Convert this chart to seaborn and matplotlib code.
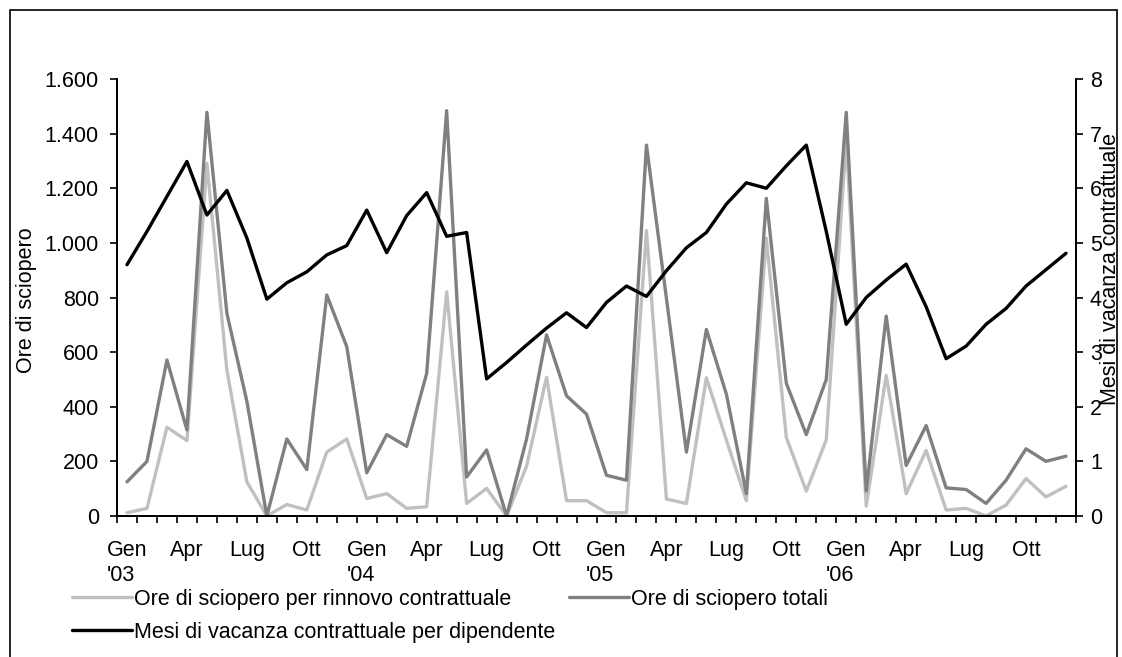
import numpy as np
import pandas as pd
import matplotlib
matplotlib.use("Agg")
import matplotlib.pyplot as plt
from matplotlib.ticker import FuncFormatter
from matplotlib.patches import Rectangle
import seaborn as sns

# Monthly data, Gen 2003 - Dic 2006
years = ["'03", "'04", "'05", "'06"]
quarter_months = ["Gen", "Apr", "Lug", "Ott"]

ore_rinnovo = [12, 28, 325, 276, 1291, 534, 125, 0, 42, 22, 234, 282,
               64, 82, 28, 34, 821, 46, 101, 0, 182, 508, 56, 56,
               12, 12, 1045, 62, 46, 506, 278, 56, 1017, 288, 91, 279,
               1380, 36, 515, 82, 240, 22, 28, 0, 40, 137, 70, 109]

ore_totali = [125, 200, 571, 315, 1478, 742, 420, 0, 282, 170, 809, 620,
              158, 298, 255, 522, 1484, 143, 242, 0, 282, 663, 440, 373,
              149, 131, 1358, 797, 234, 683, 446, 82, 1163, 486, 298, 500,
              1478, 92, 732, 185, 331, 103, 97, 46, 131, 246, 200, 219]

mesi_vacanza = [4.60, 5.21, 5.85, 6.49, 5.51, 5.96, 5.09, 3.97, 4.27, 4.47, 4.78, 4.95,
                5.60, 4.82, 5.50, 5.92, 5.12, 5.19, 2.51, 2.81, 3.13, 3.44, 3.72, 3.45,
                3.91, 4.21, 4.02, 4.49, 4.91, 5.19, 5.71, 6.10, 6.00, 6.41, 6.79, 5.21,
                3.51, 4.00, 4.32, 4.61, 3.83, 2.88, 3.11, 3.51, 3.80, 4.21, 4.51, 4.81]

lab_rinnovo = 'Ore di sciopero per rinnovo contrattuale'
lab_totali = 'Ore di sciopero totali'
lab_vacanza = 'Mesi di vacanza contrattuale per dipendente'

sns.set_theme(style="ticks")
plt.rcParams['font.family'] = ['Liberation Sans', 'DejaVu Sans']
plt.rcParams['text.color'] = 'black'
FS = 15.5

df = pd.DataFrame({'mese': np.arange(len(ore_totali)),
                   'rinnovo': ore_rinnovo,
                   'totali': ore_totali,
                   'vacanza': mesi_vacanza})

fig = plt.figure(figsize=(11.22, 6.57), dpi=100)
ax = fig.add_axes([117/1122, 1 - 516/657, 959/1122, 437/657])
ax2 = ax.twinx()

sns.lineplot(x='mese', y='rinnovo', data=df, color='#c0c0c0', linewidth=2.4,
             label=lab_rinnovo, ax=ax, legend=False)
sns.lineplot(x='mese', y='totali', data=df, color='#808080', linewidth=2.4,
             label=lab_totali, ax=ax, legend=False)
sns.lineplot(x='mese', y='vacanza', data=df, color='black', linewidth=2.4,
             label=lab_vacanza, ax=ax2, legend=False)

ax.set_xlim(-0.5, len(df) - 0.5)
ax.set_ylim(0, 1600)
ax2.set_ylim(0, 8)
ax.set_yticks(np.arange(0, 1601, 200))
ax2.set_yticks(np.arange(0, 9, 1))
ax.yaxis.set_major_formatter(FuncFormatter(lambda v, p: f"{v:,.0f}".replace(",", ".")))

# category labels every quarter, tick marks between months
pos = np.arange(0, len(df), 3)
labels = []
for i in pos:
    m = quarter_months[(i // 3) % 4]
    labels.append(f"{m}\n{years[i // 12]}" if i % 12 == 0 else m)
ax.set_xticks(pos)
ax.set_xticklabels(labels, linespacing=1.3)
for t in ax.get_xticklabels():
    t.set_multialignment('left')
ax.set_xticks(np.arange(-0.5, len(df), 1), minor=True)
ax.tick_params(axis='x', which='major', length=0, pad=17, labelsize=FS, colors='black')
ax.tick_params(axis='x', which='minor', length=5, width=1.2, direction='out', color='black')
ax.tick_params(axis='y', length=5, width=1.2, pad=8, labelsize=FS, colors='black')
ax2.tick_params(axis='y', length=5, width=1.2, pad=5, labelsize=FS, colors='black')

for a in (ax, ax2):
    a.spines['top'].set_visible(False)
    for s in a.spines.values():
        s.set_color('black')
        s.set_linewidth(1.3)
    a.grid(False)

ax.set_xlabel('')
ax.set_ylabel('Ore di sciopero', fontsize=FS, color='black')
ax.yaxis.set_label_coords((37 - 117) / 959, (516 - 300) / 437)
ax2.set_ylabel('Mesi di vacanza contrattuale', fontsize=FS, color='black')
ax2.yaxis.set_label_coords((1100 - 117) / 959, (516 - 269) / 437)

h1, l1 = ax.get_legend_handles_labels()
h2, l2 = ax2.get_legend_handles_labels()
handles = [h1[0], h2[0], h1[1]]
names = [l1[0], l2[0], l1[1]]
leg = fig.legend(handles, names, ncol=2, loc='upper left',
                 bbox_to_anchor=(72 / 1122, 1 - 589 / 657), frameon=False,
                 handlelength=2.8, handletextpad=0.1, columnspacing=0.6,
                 labelspacing=0.55, borderpad=0, borderaxespad=0, fontsize=FS)
for t in leg.get_texts():
    t.set_color('black')

# outer chart border
fig.add_artist(Rectangle((10 / 1122, -0.05), 1107 / 1122, 1.05 - 10 / 657,
                         transform=fig.transFigure, fill=False,
                         edgecolor='black', linewidth=1.2))

fig.savefig('out.png', dpi=100)
